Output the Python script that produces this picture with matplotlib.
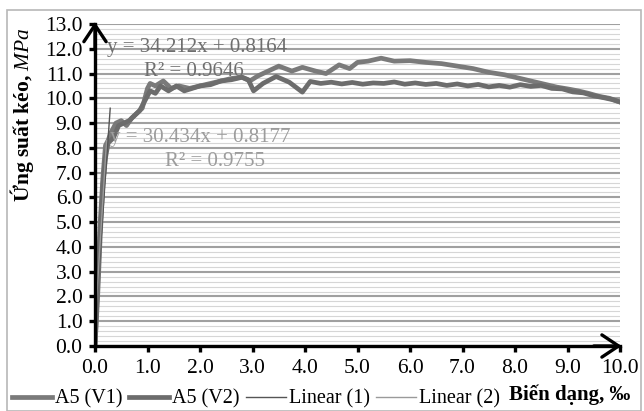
import numpy as np
import matplotlib
matplotlib.use("Agg")
import matplotlib.pyplot as plt
from matplotlib.lines import Line2D
from matplotlib.patches import Rectangle

# strain (per mille) / tensile stress (MPa)
v1_x = [0, 0.05, 0.1, 0.15, 0.2, 0.25, 0.3, 0.4, 0.5, 0.6, 0.7, 0.8, 0.9, 1.0, 1.05,
        1.15, 1.3, 1.45, 1.6, 1.8, 2.0, 2.2, 2.4, 2.6, 2.8, 2.95, 3.1, 3.3, 3.5, 3.75,
        3.95, 4.2, 4.4, 4.65, 4.85, 5.0, 5.2, 5.45, 5.7, 6.0, 6.3, 6.6, 6.9, 7.2, 7.5,
        7.8, 8.1, 8.4, 8.6, 8.8, 9.0, 9.2, 9.4, 9.6, 9.8, 10.0]
v1_y = [0, 2.5, 5.0, 6.8, 8.1, 8.3, 8.6, 9.0, 9.1, 8.9, 9.2, 9.4, 9.6, 10.4, 10.6,
        10.5, 10.7, 10.4, 10.5, 10.4, 10.5, 10.6, 10.7, 10.8, 10.85, 10.7, 10.9, 11.1, 11.3, 11.1,
        11.25, 11.1, 11.0, 11.35, 11.2, 11.45, 11.5, 11.62, 11.5, 11.52, 11.45, 11.4, 11.3, 11.2, 11.05,
        10.95, 10.8, 10.65, 10.55, 10.45, 10.38, 10.3, 10.2, 10.08, 10.0, 9.85]

v2_x = [0, 0.05, 0.1, 0.15, 0.2, 0.25, 0.35, 0.45, 0.55, 0.65, 0.75, 0.85, 0.95, 1.05,
        1.15, 1.25, 1.4, 1.55, 1.7, 1.85, 2.0, 2.2, 2.4, 2.6, 2.8, 2.92, 3.02, 3.2, 3.45,
        3.7, 3.95, 4.1, 4.3, 4.5, 4.7, 4.9, 5.1, 5.3, 5.5, 5.7, 5.9, 6.1, 6.3, 6.5, 6.7,
        6.9, 7.1, 7.3, 7.5, 7.7, 7.9, 8.1, 8.3, 8.5, 8.7, 8.9, 9.1, 9.3, 9.5, 9.7, 9.85, 10.0]
v2_y = [0, 2.0, 4.5, 6.5, 7.6, 8.2, 8.4, 8.9, 9.0, 9.1, 9.3, 9.5, 9.9, 10.3,
        10.2, 10.5, 10.3, 10.5, 10.3, 10.4, 10.5, 10.55, 10.7, 10.75, 10.85, 10.75, 10.3, 10.6, 10.88,
        10.65, 10.25, 10.68, 10.6, 10.65, 10.58, 10.64, 10.57, 10.62, 10.6, 10.66, 10.57, 10.62, 10.56, 10.6, 10.52,
        10.58, 10.5, 10.56, 10.46, 10.52, 10.45, 10.55, 10.48, 10.52, 10.4, 10.38, 10.26, 10.22, 10.1, 10.02, 9.95, 9.85]

lin1_x = [0.0, 0.29]
lin1_y = [0.82, 9.6]
lin2_x = [0.0, 0.22]
lin2_y = [0.82, 8.3]

eq1 = "y = 34.212x + 0.8164"
r1 = "R² = 0.9646"
eq2 = "y = 30.434x + 0.8177"
r2 = "R² = 0.9755"

plt.rcParams['font.family'] = ['Liberation Serif', 'DejaVu Serif']
plt.rcParams['mathtext.fontset'] = 'custom'
plt.rcParams['mathtext.it'] = 'Liberation Serif:italic'
plt.rcParams['mathtext.rm'] = 'Liberation Serif'

fig = plt.figure(figsize=(6.44, 4.11), dpi=100)
ax = fig.add_axes([95 / 644, 1 - 346 / 411, 525 / 644, 322 / 411])

# outer chart border
fig.patches.append(Rectangle((7 / 644, 0), 634 / 644, 1 - 10 / 411, transform=fig.transFigure,
                             fill=False, edgecolor='#b8b8b8', lw=1.2))

ax.set_xlim(0, 10)
ax.set_ylim(0, 13)
ax.set_xticks(np.arange(0, 10.5, 1.0))
ax.set_yticks(np.arange(0, 13.5, 1.0))
ax.set_xticklabels([f"{t:.1f}" for t in np.arange(0, 10.5, 1.0)])
ax.set_yticklabels([f"{t:.1f}" for t in np.arange(0, 13.5, 1.0)])
ax.set_yticks(np.arange(0, 13.01, 0.2), minor=True)
ax.grid(which='minor', axis='y', color='#d6d6d6', lw=0.8)
ax.grid(which='major', axis='y', color='#a0a0a0', lw=1.5)
ax.set_axisbelow(True)
for side in ['top', 'right']:
    ax.spines[side].set_visible(False)
for side in ['left', 'bottom']:
    ax.spines[side].set_linewidth(2.4)
    ax.spines[side].set_color('black')
    ax.spines[side].set_zorder(5)
ax.tick_params(axis='both', which='major', labelsize=15.5, length=4, width=2.4,
               direction='out', color='black', pad=5)
ax.tick_params(axis='y', which='minor', length=0)

ax.plot(v1_x, v1_y, color='#7a7a7a', lw=3.4, zorder=3)
ax.plot(v2_x, v2_y, color='#6c6c6c', lw=3.4, zorder=3)
ax.plot(lin1_x, lin1_y, color='#555555', lw=1.0, zorder=4)
ax.plot(lin2_x, lin2_y, color='#9a9a9a', lw=1.0, zorder=4)

# open arrow heads at the end of both axes
for tip, tail in [((0, 13.08), (0, 12.0)), ((10.03, 0), (9.5, 0))]:
    ann = ax.annotate('', xy=tip, xytext=tail, xycoords='data', textcoords='data',
                      arrowprops=dict(arrowstyle='->, head_length=0.6, head_width=0.4',
                                      lw=2.4, color='black', mutation_scale=20,
                                      shrinkA=0, shrinkB=0),
                      annotation_clip=False, zorder=6)
    ann.arrow_patch.set_clip_on(False)

ax.text(0.22, 12.05, eq1, fontsize=15, color='#6e6e6e', ha='left', va='center')
ax.text(0.93, 11.1, r1, fontsize=15, color='#6e6e6e', ha='left', va='center')
ax.text(0.28, 8.4, eq2, fontsize=15, color='#9c9c9c', ha='left', va='center')
ax.text(1.33, 7.45, r2, fontsize=15, color='#9c9c9c', ha='left', va='center')

fig.text(22 / 644, 1 - 115 / 411, r"Ứng suất kéo, $\mathit{MPa}$", rotation=90,
         fontsize=15.5, fontweight='bold', ha='center', va='center')
fig.text(570 / 644, 1 - 395 / 411, "Biến dạng, ‰", fontsize=15, fontweight='bold',
         ha='center', va='center')

handles = [Line2D([], [], color='#7a7a7a', lw=3.4),
           Line2D([], [], color='#6c6c6c', lw=3.4),
           Line2D([], [], color='#555555', lw=1.0),
           Line2D([], [], color='#9a9a9a', lw=1.0)]
labels = ["A5 (V1)", "A5 (V2)", "Linear (1)", "Linear (2)"]
fig.legend(handles, labels, loc='center left', bbox_to_anchor=(12 / 644, 1 - 399 / 411),
           ncol=4, frameon=False, fontsize=14.5, handlelength=2.0, handletextpad=0.15,
           columnspacing=0.3, borderaxespad=0, borderpad=0)

fig.savefig("out.png", dpi=100)
